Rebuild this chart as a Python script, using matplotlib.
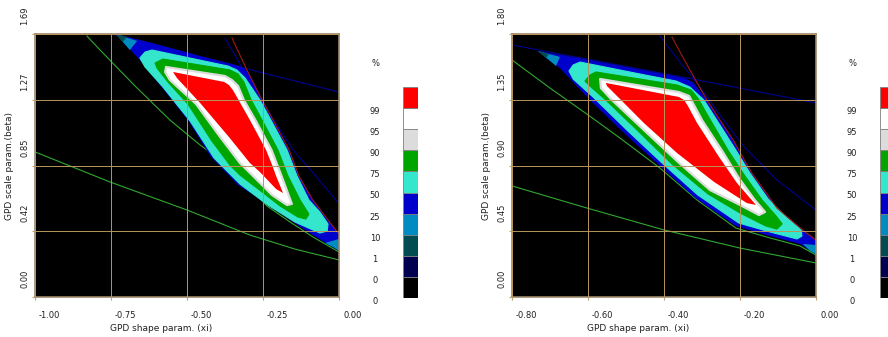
import matplotlib
matplotlib.use("Agg")
import matplotlib.pyplot as plt
from matplotlib.transforms import ScaledTranslation, blended_transform_factory

# colour bar: level labels (bottom -> top) and band colours
LEVEL_LABELS = ['0', '0', '1', '10', '25', '50', '75', '90', '95', '99']
BAND_COLORS = ['#000000', '#000050', '#004c50', '#008cc0', '#0000cd',
               '#33e6cc', '#00a500', '#dcdcdc', '#ffffff', '#ff0000']

# ---------------- left panel ----------------
L_XTICKS = [-1.0, -0.75, -0.5, -0.25, 0.0]
L_XLABELS = ['-1.00', '-0.75', '-0.50', '-0.25', '0.00']
L_YTICKS = [0.0, 0.4225, 0.845, 1.2675, 1.69]
L_YLABELS = ['0.00', '0.42', '0.85', '1.27', '1.69']

L_RED = [(-0.546, 1.446), (-0.378, 1.382), (-0.362, 1.362), (-0.349, 1.330),
         (-0.293, 1.137), (-0.240, 0.945), (-0.220, 0.848), (-0.207, 0.778),
         (-0.184, 0.668), (-0.207, 0.694), (-0.260, 0.803), (-0.293, 0.861),
         (-0.362, 1.028), (-0.457, 1.247), (-0.533, 1.407)]
L_WHITE = [(-0.569, 1.478), (-0.375, 1.420), (-0.352, 1.394), (-0.332, 1.356),
           (-0.313, 1.266), (-0.275, 1.137), (-0.222, 0.945), (-0.189, 0.778),
           (-0.161, 0.630), (-0.155, 0.598), (-0.171, 0.591), (-0.220, 0.655),
           (-0.286, 0.784), (-0.326, 0.861), (-0.391, 1.028), (-0.470, 1.240),
           (-0.556, 1.394), (-0.572, 1.446)]
L_GREEN = [(-0.605, 1.504), (-0.579, 1.529), (-0.359, 1.459), (-0.332, 1.433),
           (-0.313, 1.382), (-0.289, 1.266), (-0.253, 1.137), (-0.201, 0.945),
           (-0.168, 0.778), (-0.128, 0.623), (-0.099, 0.533), (-0.109, 0.501),
           (-0.135, 0.514), (-0.194, 0.585), (-0.253, 0.675), (-0.326, 0.784),
           (-0.359, 0.848), (-0.418, 1.002), (-0.497, 1.240), (-0.563, 1.382),
           (-0.599, 1.472)]
L_CYAN = [(-0.655, 1.536), (-0.638, 1.574), (-0.615, 1.587), (-0.365, 1.484),
          (-0.336, 1.459), (-0.309, 1.407), (-0.260, 1.266), (-0.224, 1.137),
          (-0.171, 0.945), (-0.138, 0.778), (-0.099, 0.623), (-0.063, 0.546),
          (-0.036, 0.469), (-0.039, 0.424), (-0.063, 0.411), (-0.145, 0.482),
          (-0.234, 0.591), (-0.326, 0.726), (-0.411, 0.893), (-0.490, 1.131),
          (-0.582, 1.356), (-0.638, 1.478)]
L_BLUE = [(-0.734, 1.690), (-0.589, 1.619), (-0.457, 1.549), (-0.339, 1.491),
          (-0.313, 1.472), (-0.296, 1.433), (-0.253, 1.266), (-0.217, 1.137),
          (-0.164, 0.945), (-0.132, 0.778), (-0.086, 0.623), (-0.026, 0.469),
          (0.0, 0.405), (0.0, 0.296), (-0.086, 0.398), (-0.161, 0.495),
          (-0.237, 0.598), (-0.332, 0.720), (-0.421, 0.900), (-0.497, 1.137),
          (-0.589, 1.362), (-0.655, 1.523), (-0.704, 1.626)]
L_SKY_TIP = [(-0.734, 1.690), (-0.664, 1.645), (-0.688, 1.587)]
L_TEAL_TIP = [(-0.734, 1.690), (-0.697, 1.671), (-0.711, 1.639)]
L_SKY_END = [(-0.046, 0.347), (0.0, 0.373), (0.0, 0.296), (-0.020, 0.321)]

L_LINE_RED = [(-0.352, 1.664), (-0.303, 1.459), (-0.253, 1.266), (-0.217, 1.137),
              (-0.164, 0.945), (-0.132, 0.778), (-0.086, 0.623), (-0.026, 0.469),
              (0.0, 0.405)]
L_LINE_BLUE1 = [(-0.375, 1.664), (-0.322, 1.484), (-0.266, 1.298), (-0.211, 1.125),
                (-0.151, 0.945), (-0.079, 0.784), (0.0, 0.598)]
L_LINE_BLUE2 = [(-0.737, 1.684), (-0.316, 1.472), (0.0, 1.317)]
L_LINE_GREEN1 = [(-0.829, 1.677), (-0.786, 1.587), (-0.671, 1.356), (-0.556, 1.137),
                 (-0.457, 0.977), (-0.352, 0.829), (-0.237, 0.585), (-0.161, 0.482),
                 (-0.086, 0.386), (0.0, 0.289)]
L_LINE_GREEN2 = [(-1.0, 0.932), (-0.753, 0.739), (-0.500, 0.559), (-0.293, 0.398),
                 (-0.145, 0.308), (0.0, 0.238)]

# ---------------- right panel ----------------
R_XTICKS = [-0.8, -0.6, -0.4, -0.2, 0.0]
R_XLABELS = ['-0.80', '-0.60', '-0.40', '-0.20', '0.00']
R_YTICKS = [0.0, 0.45, 0.9, 1.35, 1.8]
R_YLABELS = ['0.00', '0.45', '0.90', '1.35', '1.80']

R_RED = [(-0.553, 1.465), (-0.361, 1.369), (-0.347, 1.348), (-0.337, 1.307),
         (-0.313, 1.191), (-0.255, 0.958), (-0.208, 0.780), (-0.158, 0.630),
         (-0.182, 0.643), (-0.268, 0.787), (-0.366, 0.986), (-0.453, 1.191),
         (-0.513, 1.348), (-0.550, 1.444)]
R_WHITE = [(-0.568, 1.492), (-0.361, 1.403), (-0.334, 1.376), (-0.324, 1.328),
           (-0.300, 1.211), (-0.245, 0.992), (-0.203, 0.814), (-0.161, 0.664),
           (-0.134, 0.582), (-0.150, 0.561), (-0.200, 0.630), (-0.279, 0.732),
           (-0.363, 0.924), (-0.453, 1.143), (-0.537, 1.348), (-0.566, 1.430)]
R_GREEN = [(-0.608, 1.478), (-0.595, 1.519), (-0.579, 1.540), (-0.366, 1.451),
           (-0.329, 1.417), (-0.311, 1.362), (-0.287, 1.252), (-0.232, 1.006),
           (-0.187, 0.828), (-0.142, 0.664), (-0.105, 0.554), (-0.089, 0.500),
           (-0.103, 0.465), (-0.132, 0.486), (-0.200, 0.575), (-0.284, 0.705),
           (-0.379, 0.910), (-0.468, 1.136), (-0.553, 1.348), (-0.595, 1.444)]
R_CYAN = [(-0.650, 1.547), (-0.639, 1.588), (-0.621, 1.608), (-0.463, 1.526),
          (-0.368, 1.478), (-0.332, 1.437), (-0.295, 1.348), (-0.268, 1.239),
          (-0.211, 1.006), (-0.174, 0.849), (-0.126, 0.671), (-0.076, 0.541),
          (-0.039, 0.459), (-0.037, 0.417), (-0.050, 0.397), (-0.121, 0.445),
          (-0.203, 0.506), (-0.311, 0.698), (-0.405, 0.917), (-0.495, 1.136),
          (-0.584, 1.362), (-0.639, 1.492)]
R_BLUE = [(-0.732, 1.684), (-0.611, 1.629), (-0.347, 1.499), (-0.324, 1.471),
          (-0.287, 1.348), (-0.218, 1.075), (-0.171, 0.856), (-0.103, 0.609),
          (-0.032, 0.452), (0.0, 0.390), (0.0, 0.294), (-0.042, 0.363),
          (-0.121, 0.417), (-0.211, 0.486), (-0.318, 0.678), (-0.413, 0.903),
          (-0.505, 1.122), (-0.595, 1.348), (-0.674, 1.567)]
R_SKY_TIP = [(-0.732, 1.684), (-0.674, 1.643), (-0.684, 1.581)]
R_TEAL_TIP = [(-0.732, 1.684), (-0.703, 1.663), (-0.711, 1.636)]
R_SKY_END = [(-0.034, 0.363), (0.0, 0.356), (0.0, 0.294), (-0.016, 0.315)]

R_LINE_RED = [(-0.379, 1.779), (-0.332, 1.554), (-0.287, 1.348), (-0.218, 1.075),
              (-0.171, 0.856), (-0.103, 0.609), (-0.032, 0.452), (0.0, 0.390)]
R_LINE_BLUE1 = [(-0.413, 1.793), (-0.358, 1.608), (-0.313, 1.465), (-0.253, 1.246),
                (-0.189, 1.027), (-0.103, 0.801), (0.0, 0.595)]
R_LINE_BLUE2 = [(-0.8, 1.725), (-0.463, 1.560), (-0.311, 1.485), (0.0, 1.328)]
R_LINE_GREEN1 = [(-0.8, 1.622), (-0.700, 1.430), (-0.603, 1.252), (-0.516, 1.088),
                 (-0.411, 0.883), (-0.313, 0.664), (-0.211, 0.472), (-0.121, 0.404),
                 (-0.042, 0.349), (0.0, 0.287)]
R_LINE_GREEN2 = [(-0.8, 0.760), (-0.603, 0.609), (-0.400, 0.459), (-0.200, 0.335),
                 (0.0, 0.233)]

fig = plt.figure(figsize=(8.88, 3.37), dpi=100)
fig.patch.set_facecolor('white')


def px(dx, dy):
    return ScaledTranslation(dx / 100.0, dy / 100.0, fig.dpi_scale_trans)


def fill(ax, pts, color, z, **kw):
    xs = [p[0] for p in pts]
    ys = [p[1] for p in pts]
    ax.fill(xs, ys, facecolor=color, zorder=z, **kw)


def line(ax, pts, color, z):
    ax.plot([p[0] for p in pts], [p[1] for p in pts], color=color, lw=0.8, zorder=z)


def draw_panel(ax, xlim, ylim, xticks, xlabels, yticks, ylabels,
               bands, tips, lines_under, red_line):
    ax.set_facecolor('black')
    ax.set_xlim(*xlim)
    ax.set_ylim(*ylim)
    ax.set_xticks(xticks)
    ax.set_yticks(yticks)
    ax.tick_params(length=2, color='#c0a070', labelbottom=False, labelleft=False)
    ax.grid(True, color='#b8955c', lw=0.7, zorder=2.5)
    ax.set_axisbelow(False)
    for s in ax.spines.values():
        s.set_color('#9c8668')
        s.set_linewidth(1.2)

    for pts, col in lines_under:
        line(ax, pts, col, 1.0)

    # outer bands first, inner ones drawn over them
    blue, cyan, green, white, red = bands
    fill(ax, blue, BAND_COLORS[4], 1.1, lw=0)
    z = 1.1
    for pts, ci in tips:
        z += 0.05
        fill(ax, pts, BAND_COLORS[ci], z, lw=0)
    fill(ax, cyan, BAND_COLORS[5], 1.5, edgecolor=BAND_COLORS[5], lw=0.8, joinstyle='round')
    fill(ax, green, BAND_COLORS[6], 1.6, edgecolor=BAND_COLORS[6], lw=0.8, joinstyle='round')
    fill(ax, white, BAND_COLORS[8], 1.7, edgecolor=BAND_COLORS[7], lw=1.6, joinstyle='round')
    fill(ax, red, BAND_COLORS[9], 1.8, lw=0)
    line(ax, red_line, '#a01818', 2.2)

    tx = blended_transform_factory(ax.transData, ax.transAxes)
    for v, s in zip(xticks, xlabels):
        ax.text(v, 0, s, transform=tx + px(14, -18), ha='center', va='center',
                fontsize=6, color='#202020')
    ty = blended_transform_factory(ax.transAxes, ax.transData)
    for v, s in zip(yticks, ylabels):
        ax.text(0, v, s, transform=ty + px(-10, 18), rotation=90, ha='center',
                va='center', fontsize=6, color='#202020')
    ax.text(0.414, -0.118, 'GPD shape param. (xi)', transform=ax.transAxes,
            ha='center', va='center', fontsize=6.5, color='#202020')
    ax.text(-0.085, 0.498, 'GPD scale param.(beta)', transform=ax.transAxes,
            rotation=90, ha='center', va='center', fontsize=6.5, color='#202020')


def draw_scale(cax):
    cax.set_xlim(0, 1)
    cax.set_ylim(0, len(BAND_COLORS))
    cax.axis('off')
    for i, c in enumerate(BAND_COLORS):
        cax.bar(0.5, 1, bottom=i, width=1, color=c, edgecolor='#808080', lw=0.6)
    for i, s in enumerate(LEVEL_LABELS):
        cax.text(0, i, s, transform=cax.transData + px(-28, -3.5), ha='center',
                 va='center', fontsize=6, color='#202020', clip_on=False)
    cax.text(0, len(BAND_COLORS), '%', transform=cax.transData + px(-28, 23),
             ha='center', va='center', fontsize=6, color='#202020', clip_on=False)


ax1 = fig.add_axes([35 / 888, 40 / 337, 304 / 888, 263 / 337])
ax2 = fig.add_axes([512 / 888, 40 / 337, 304 / 888, 263 / 337])
cax1 = fig.add_axes([403 / 888, 39 / 337, 15 / 888, 211 / 337])
cax2 = fig.add_axes([880 / 888, 39 / 337, 15 / 888, 211 / 337])

draw_panel(ax1, (-1.0, 0.0), (0.0, 1.69), L_XTICKS, L_XLABELS, L_YTICKS, L_YLABELS,
           (L_BLUE, L_CYAN, L_GREEN, L_WHITE, L_RED),
           [(L_SKY_TIP, 3), (L_TEAL_TIP, 2), (L_SKY_END, 3)],
           [(L_LINE_GREEN1, '#30a830'), (L_LINE_GREEN2, '#30a830'),
            (L_LINE_BLUE1, '#000090'), (L_LINE_BLUE2, '#000090')],
           L_LINE_RED)
draw_panel(ax2, (-0.8, 0.0), (0.0, 1.8), R_XTICKS, R_XLABELS, R_YTICKS, R_YLABELS,
           (R_BLUE, R_CYAN, R_GREEN, R_WHITE, R_RED),
           [(R_SKY_TIP, 3), (R_TEAL_TIP, 2), (R_SKY_END, 3)],
           [(R_LINE_GREEN1, '#30a830'), (R_LINE_GREEN2, '#30a830'),
            (R_LINE_BLUE1, '#000090'), (R_LINE_BLUE2, '#000090')],
           R_LINE_RED)
draw_scale(cax1)
draw_scale(cax2)

fig.savefig('out.png', dpi=100, facecolor='white')
